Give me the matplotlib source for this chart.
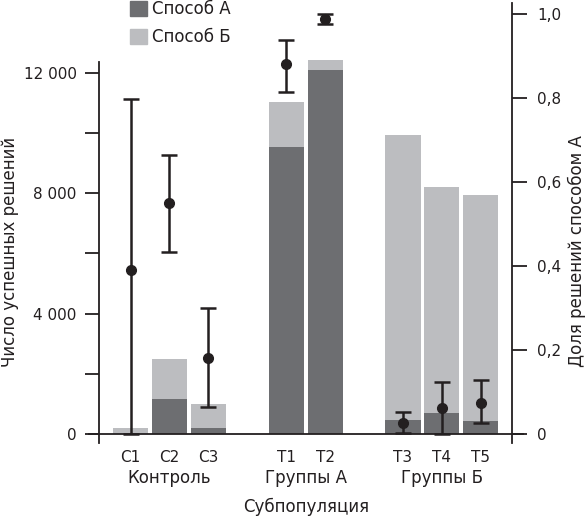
import matplotlib
matplotlib.use("Agg")
import matplotlib.pyplot as plt
from matplotlib.patches import Patch
from matplotlib.ticker import FixedLocator, FuncFormatter
import numpy as np

plt.rcParams['font.family'] = ['Liberation Sans Narrow', 'DejaVu Sans Condensed', 'DejaVu Sans']

# Data
labels = ["C1", "C2", "C3", "T1", "T2", "T3", "T4", "T5"]
positions = [0, 1, 2, 4, 5, 7, 8, 9]
method_a = [0, 1170, 210, 9550, 12100, 465, 700, 430]
method_b = [200, 1320, 790, 1490, 330, 9475, 7510, 7515]
share_a = [0.39, 0.549, 0.182, 0.880, 0.988, 0.027, 0.061, 0.075]
share_low = [0.0, 0.434, 0.065, 0.815, 0.976, 0.002, 0.0, 0.027]
share_high = [0.797, 0.664, 0.300, 0.938, 1.0, 0.052, 0.124, 0.129]
groups = ["Контроль", "Группы А", "Группы Б"]
group_pos = [1, 4.5, 8]
left_ticks = [0, 2000, 4000, 6000, 8000, 10000, 12000]
right_ticks = [0, 0.2, 0.4, 0.6, 0.8, 1.0]

dark = "#6d6e71"
light = "#bcbdc0"
ink = "#231f20"

W, H = 587, 518
fig = plt.figure(figsize=(W/100, H/100), dpi=100)
ax_l, ax_r, ax_b, ax_t = 99, 512, 443, 0
ax = fig.add_axes([ax_l/W, 1-ax_b/H, (ax_r-ax_l)/W, (ax_b-ax_t)/H])
ax2 = ax.twinx()

ax.set_xlim(-0.81, 9.8)
ax.set_ylim(-300, 14427)
ax2.set_ylim(-0.0214, 1.0333)

ax.bar(positions, method_a, width=0.9, color=dark, zorder=2)
ax.bar(positions, method_b, bottom=method_a, width=0.9, color=light, zorder=2)

lo = np.array(share_a) - np.array(share_low)
hi = np.array(share_high) - np.array(share_a)
ax2.errorbar(positions, share_a, yerr=[lo, hi], fmt='o', color=ink, ms=7,
             elinewidth=1.8, capsize=5.5, capthick=1.8, zorder=5)

ax.axhline(0, xmin=-10/413, xmax=1+11/413, color=ink, lw=1.3, clip_on=False, zorder=3)

for a in (ax, ax2):
    a.spines['top'].set_visible(False)
    a.spines['bottom'].set_visible(False)
ax.spines['right'].set_visible(False)
ax2.spines['left'].set_visible(False)
ax.spines['left'].set_bounds(-300, 12370)
ax2.spines['right'].set_bounds(-0.0214, 1.026)
for s in (ax.spines['left'], ax2.spines['right']):
    s.set_color(ink)
    s.set_linewidth(1.3)

def fmt_left(v, p):
    v = int(round(v))
    if v % 4000 != 0:
        return ""
    return f"{v:,}".replace(",", " ")

ax.yaxis.set_major_locator(FixedLocator(left_ticks))
ax.yaxis.set_major_formatter(FuncFormatter(fmt_left))
ax.tick_params(axis='y', direction='out', length=10, width=1.3, color=ink, pad=6,
               labelsize=11, labelcolor=ink)

def fmt_right(v, p):
    if abs(v) < 1e-9:
        return "0"
    return f"{v:.1f}".replace(".", ",")

ax2.yaxis.set_major_locator(FixedLocator(right_ticks))
ax2.yaxis.set_major_formatter(FuncFormatter(fmt_right))
ax2.tick_params(axis='y', direction='out', length=11, width=1.3, color=ink, pad=7,
                labelsize=11, labelcolor=ink)

ax.set_xticks(positions)
ax.set_xticklabels(labels)
ax.tick_params(axis='x', length=0, pad=5, labelsize=11, labelcolor=ink)

tr = ax.get_xaxis_transform()
for g, gp in zip(groups, group_pos):
    ax.text(gp, -35/443, g, transform=tr, ha='center', va='center', fontsize=12, color=ink)
ax.text(4.5, -64/443, "Субпопуляция", transform=tr, ha='center', va='center', fontsize=12, color=ink)

fig.text(10/W, 1-252/H, "Число успешных решений", rotation=90, ha='center', va='center',
         fontsize=12, color=ink)
fig.text(577/W, 1-251/H, "Доля решений способом А", rotation=90, ha='center', va='center',
         fontsize=12, color=ink)

handles = [Patch(color=dark, label="Способ А"), Patch(color=light, label="Способ Б")]
fig.legend(handles=handles, loc='upper left', bbox_to_anchor=(130/W, 1.0), frameon=False,
           fontsize=12, handlelength=1.0, handleheight=1.0, handletextpad=0.35,
           labelspacing=0.6, borderpad=0.0, borderaxespad=0.0, labelcolor=ink)

fig.savefig("out.png", dpi=100)
